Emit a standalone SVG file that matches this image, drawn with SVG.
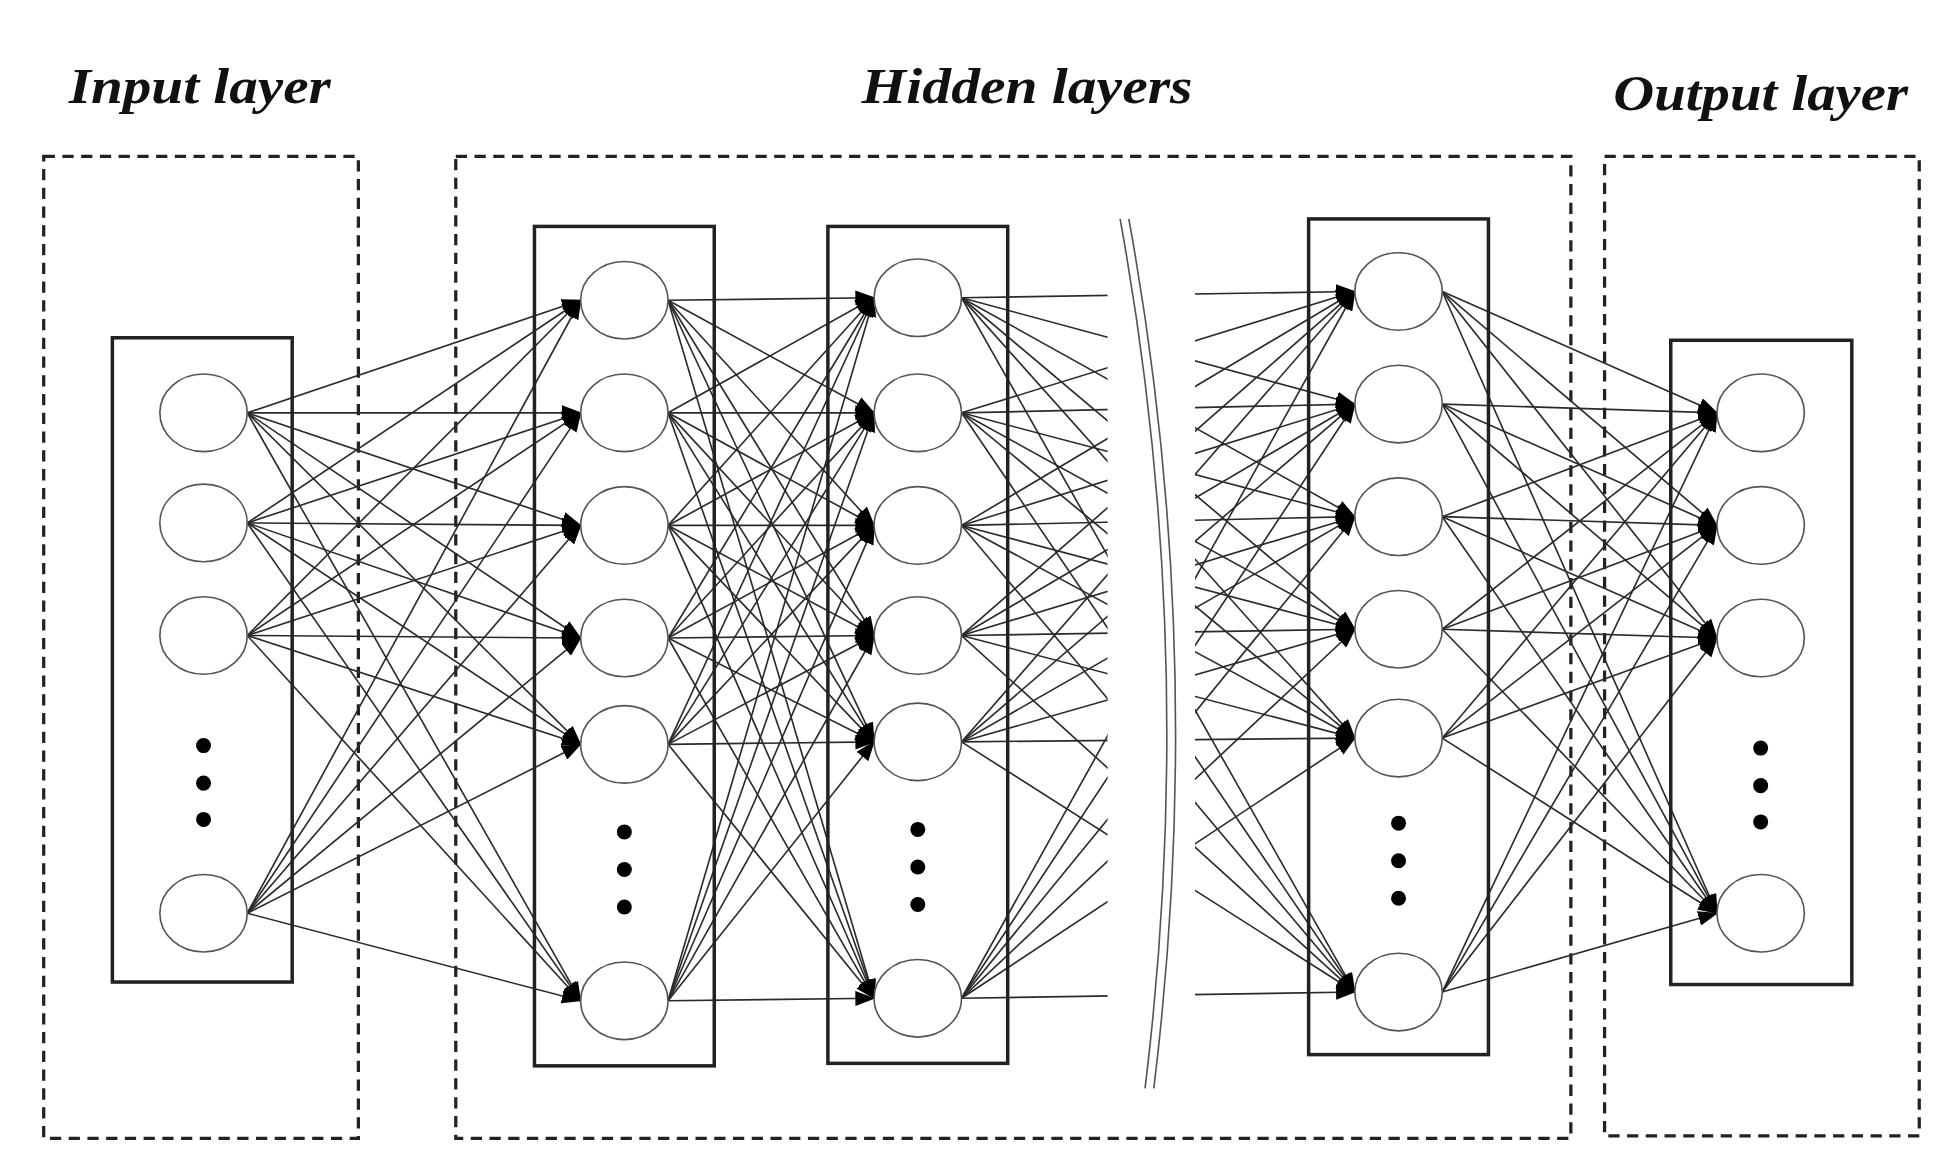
<svg xmlns="http://www.w3.org/2000/svg" width="1958" height="1174" viewBox="0 0 1958 1174">
<style>
.lbl{font-family:"Liberation Serif",serif;font-weight:bold;font-style:italic;font-size:40px;fill:#111}
.dash{fill:none;stroke:#222;stroke-width:2.6;stroke-dasharray:9 6}
.box{fill:none;stroke:#222;stroke-width:2.8}
.n{fill:#fff;stroke:#555;stroke-width:1.3}
.d{fill:#000}
.e line{stroke:#2a2a2a;stroke-width:1.3}
.a line{marker-end:url(#ah)}
</style>
<defs>
<marker id="ah" markerUnits="userSpaceOnUse" markerWidth="16" markerHeight="12" refX="15" refY="6" orient="auto"><path d="M0,0 L16,6 L0,12 z" fill="#000"/></marker>
<clipPath id="cut"><rect x="770" y="150" width="117" height="720"/><rect x="957" y="150" width="140" height="720"/></clipPath>
</defs>
<g transform="scale(1.2487,1.251)">
<g id="labels">
<text class="lbl" x="55" y="82" textLength="210" lengthAdjust="spacingAndGlyphs">Input layer</text>
<text class="lbl" x="690" y="82" textLength="265" lengthAdjust="spacingAndGlyphs">Hidden layers</text>
<text class="lbl" x="1292" y="88" textLength="236" lengthAdjust="spacingAndGlyphs">Output layer</text>
</g>
<g id="groups">
<rect class="dash" x="35" y="125" width="252" height="785"/>
<rect class="dash" x="365" y="125" width="893" height="785"/>
<rect class="dash" x="1285" y="125" width="252" height="783"/>
</g>
<g id="break" fill="none" stroke="#555" stroke-width="1.3">
<path d="M897,175 Q960,520 917,870"/>
<path d="M904,175 Q967,520 924,870"/>
</g>
<g id="connectors" class="e">
<g class="a">
<line x1="198" y1="330" x2="465" y2="240"/><line x1="198" y1="330" x2="465" y2="330"/><line x1="198" y1="330" x2="465" y2="420"/><line x1="198" y1="330" x2="465" y2="510"/><line x1="198" y1="330" x2="465" y2="595"/><line x1="198" y1="330" x2="465" y2="800"/>
<line x1="198" y1="418" x2="465" y2="240"/><line x1="198" y1="418" x2="465" y2="330"/><line x1="198" y1="418" x2="465" y2="420"/><line x1="198" y1="418" x2="465" y2="510"/><line x1="198" y1="418" x2="465" y2="595"/><line x1="198" y1="418" x2="465" y2="800"/>
<line x1="198" y1="508" x2="465" y2="240"/><line x1="198" y1="508" x2="465" y2="330"/><line x1="198" y1="508" x2="465" y2="420"/><line x1="198" y1="508" x2="465" y2="510"/><line x1="198" y1="508" x2="465" y2="595"/><line x1="198" y1="508" x2="465" y2="800"/>
<line x1="198" y1="730" x2="465" y2="240"/><line x1="198" y1="730" x2="465" y2="330"/><line x1="198" y1="730" x2="465" y2="420"/><line x1="198" y1="730" x2="465" y2="510"/><line x1="198" y1="730" x2="465" y2="595"/><line x1="198" y1="730" x2="465" y2="800"/>
</g>
<g class="a">
<line x1="535" y1="240" x2="700" y2="238"/><line x1="535" y1="240" x2="700" y2="330"/><line x1="535" y1="240" x2="700" y2="420"/><line x1="535" y1="240" x2="700" y2="508"/><line x1="535" y1="240" x2="700" y2="593"/><line x1="535" y1="240" x2="700" y2="798"/>
<line x1="535" y1="330" x2="700" y2="238"/><line x1="535" y1="330" x2="700" y2="330"/><line x1="535" y1="330" x2="700" y2="420"/><line x1="535" y1="330" x2="700" y2="508"/><line x1="535" y1="330" x2="700" y2="593"/><line x1="535" y1="330" x2="700" y2="798"/>
<line x1="535" y1="420" x2="700" y2="238"/><line x1="535" y1="420" x2="700" y2="330"/><line x1="535" y1="420" x2="700" y2="420"/><line x1="535" y1="420" x2="700" y2="508"/><line x1="535" y1="420" x2="700" y2="593"/><line x1="535" y1="420" x2="700" y2="798"/>
<line x1="535" y1="510" x2="700" y2="238"/><line x1="535" y1="510" x2="700" y2="330"/><line x1="535" y1="510" x2="700" y2="420"/><line x1="535" y1="510" x2="700" y2="508"/><line x1="535" y1="510" x2="700" y2="593"/><line x1="535" y1="510" x2="700" y2="798"/>
<line x1="535" y1="595" x2="700" y2="238"/><line x1="535" y1="595" x2="700" y2="330"/><line x1="535" y1="595" x2="700" y2="420"/><line x1="535" y1="595" x2="700" y2="508"/><line x1="535" y1="595" x2="700" y2="593"/><line x1="535" y1="595" x2="700" y2="798"/>
<line x1="535" y1="800" x2="700" y2="238"/><line x1="535" y1="800" x2="700" y2="330"/><line x1="535" y1="800" x2="700" y2="420"/><line x1="535" y1="800" x2="700" y2="508"/><line x1="535" y1="800" x2="700" y2="593"/><line x1="535" y1="800" x2="700" y2="798"/>
</g>
<g class="a" clip-path="url(#cut)">
<line x1="770" y1="238" x2="1085" y2="233"/><line x1="770" y1="238" x2="1085" y2="323"/><line x1="770" y1="238" x2="1085" y2="413"/><line x1="770" y1="238" x2="1085" y2="503"/><line x1="770" y1="238" x2="1085" y2="590"/><line x1="770" y1="238" x2="1085" y2="793"/>
<line x1="770" y1="330" x2="1085" y2="233"/><line x1="770" y1="330" x2="1085" y2="323"/><line x1="770" y1="330" x2="1085" y2="413"/><line x1="770" y1="330" x2="1085" y2="503"/><line x1="770" y1="330" x2="1085" y2="590"/><line x1="770" y1="330" x2="1085" y2="793"/>
<line x1="770" y1="420" x2="1085" y2="233"/><line x1="770" y1="420" x2="1085" y2="323"/><line x1="770" y1="420" x2="1085" y2="413"/><line x1="770" y1="420" x2="1085" y2="503"/><line x1="770" y1="420" x2="1085" y2="590"/><line x1="770" y1="420" x2="1085" y2="793"/>
<line x1="770" y1="508" x2="1085" y2="233"/><line x1="770" y1="508" x2="1085" y2="323"/><line x1="770" y1="508" x2="1085" y2="413"/><line x1="770" y1="508" x2="1085" y2="503"/><line x1="770" y1="508" x2="1085" y2="590"/><line x1="770" y1="508" x2="1085" y2="793"/>
<line x1="770" y1="593" x2="1085" y2="233"/><line x1="770" y1="593" x2="1085" y2="323"/><line x1="770" y1="593" x2="1085" y2="413"/><line x1="770" y1="593" x2="1085" y2="503"/><line x1="770" y1="593" x2="1085" y2="590"/><line x1="770" y1="593" x2="1085" y2="793"/>
<line x1="770" y1="798" x2="1085" y2="233"/><line x1="770" y1="798" x2="1085" y2="323"/><line x1="770" y1="798" x2="1085" y2="413"/><line x1="770" y1="798" x2="1085" y2="503"/><line x1="770" y1="798" x2="1085" y2="590"/><line x1="770" y1="798" x2="1085" y2="793"/>
</g>
<g class="a">
<line x1="1155" y1="233" x2="1375" y2="330"/><line x1="1155" y1="233" x2="1375" y2="420"/><line x1="1155" y1="233" x2="1375" y2="510"/><line x1="1155" y1="233" x2="1375" y2="730"/>
<line x1="1155" y1="323" x2="1375" y2="330"/><line x1="1155" y1="323" x2="1375" y2="420"/><line x1="1155" y1="323" x2="1375" y2="510"/><line x1="1155" y1="323" x2="1375" y2="730"/>
<line x1="1155" y1="413" x2="1375" y2="330"/><line x1="1155" y1="413" x2="1375" y2="420"/><line x1="1155" y1="413" x2="1375" y2="510"/><line x1="1155" y1="413" x2="1375" y2="730"/>
<line x1="1155" y1="503" x2="1375" y2="330"/><line x1="1155" y1="503" x2="1375" y2="420"/><line x1="1155" y1="503" x2="1375" y2="510"/><line x1="1155" y1="503" x2="1375" y2="730"/>
<line x1="1155" y1="590" x2="1375" y2="330"/><line x1="1155" y1="590" x2="1375" y2="420"/><line x1="1155" y1="590" x2="1375" y2="510"/><line x1="1155" y1="590" x2="1375" y2="730"/>
<line x1="1155" y1="793" x2="1375" y2="330"/><line x1="1155" y1="793" x2="1375" y2="420"/><line x1="1155" y1="793" x2="1375" y2="510"/><line x1="1155" y1="793" x2="1375" y2="730"/>
</g>
</g>
<g id="input">
<rect class="box" x="90" y="270" width="144" height="515"/>
<ellipse class="n" cx="163" cy="330" rx="35" ry="31"/><ellipse class="n" cx="163" cy="418" rx="35" ry="31"/><ellipse class="n" cx="163" cy="508" rx="35" ry="31"/><ellipse class="n" cx="163" cy="730" rx="35" ry="31"/>
<circle class="d" cx="163" cy="596" r="6"/><circle class="d" cx="163" cy="626" r="6"/><circle class="d" cx="163" cy="655" r="6"/>
</g>
<g id="hidden1">
<rect class="box" x="428" y="181" width="144" height="671"/>
<ellipse class="n" cx="500" cy="240" rx="35" ry="31"/><ellipse class="n" cx="500" cy="330" rx="35" ry="31"/><ellipse class="n" cx="500" cy="420" rx="35" ry="31"/><ellipse class="n" cx="500" cy="510" rx="35" ry="31"/><ellipse class="n" cx="500" cy="595" rx="35" ry="31"/><ellipse class="n" cx="500" cy="800" rx="35" ry="31"/>
<circle class="d" cx="500" cy="665" r="6"/><circle class="d" cx="500" cy="695" r="6"/><circle class="d" cx="500" cy="725" r="6"/>
</g>
<g id="hidden2">
<rect class="box" x="663" y="181" width="144" height="669"/>
<ellipse class="n" cx="735" cy="238" rx="35" ry="31"/><ellipse class="n" cx="735" cy="330" rx="35" ry="31"/><ellipse class="n" cx="735" cy="420" rx="35" ry="31"/><ellipse class="n" cx="735" cy="508" rx="35" ry="31"/><ellipse class="n" cx="735" cy="593" rx="35" ry="31"/><ellipse class="n" cx="735" cy="798" rx="35" ry="31"/>
<circle class="d" cx="735" cy="663" r="6"/><circle class="d" cx="735" cy="693" r="6"/><circle class="d" cx="735" cy="723" r="6"/>
</g>
<g id="hidden3">
<rect class="box" x="1048" y="175" width="144" height="668"/>
<ellipse class="n" cx="1120" cy="233" rx="35" ry="31"/><ellipse class="n" cx="1120" cy="323" rx="35" ry="31"/><ellipse class="n" cx="1120" cy="413" rx="35" ry="31"/><ellipse class="n" cx="1120" cy="503" rx="35" ry="31"/><ellipse class="n" cx="1120" cy="590" rx="35" ry="31"/><ellipse class="n" cx="1120" cy="793" rx="35" ry="31"/>
<circle class="d" cx="1120" cy="658" r="6"/><circle class="d" cx="1120" cy="688" r="6"/><circle class="d" cx="1120" cy="718" r="6"/>
</g>
<g id="output">
<rect class="box" x="1338" y="272" width="145" height="515"/>
<ellipse class="n" cx="1410" cy="330" rx="35" ry="31"/><ellipse class="n" cx="1410" cy="420" rx="35" ry="31"/><ellipse class="n" cx="1410" cy="510" rx="35" ry="31"/><ellipse class="n" cx="1410" cy="730" rx="35" ry="31"/>
<circle class="d" cx="1410" cy="598" r="6"/><circle class="d" cx="1410" cy="628" r="6"/><circle class="d" cx="1410" cy="657" r="6"/>
</g>
</g>
</svg>
